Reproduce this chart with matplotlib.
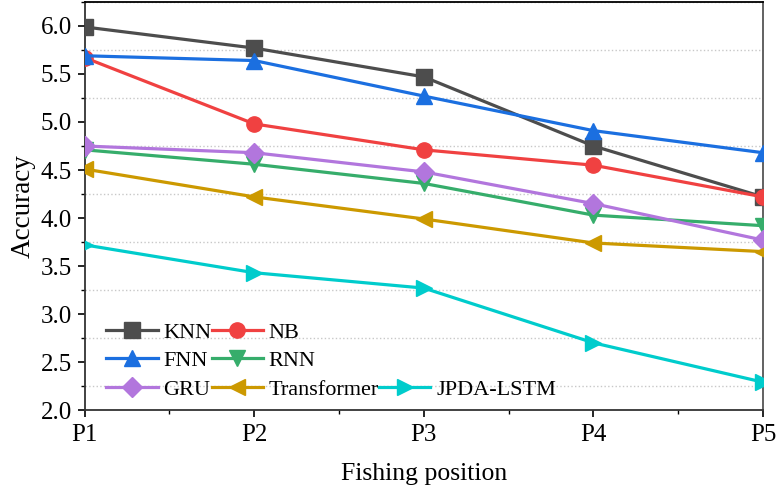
import numpy as np
import matplotlib
matplotlib.use("Agg")
import matplotlib.pyplot as plt
from matplotlib.lines import Line2D
from matplotlib.ticker import MultipleLocator

plt.rcParams['font.family'] = ['Liberation Serif', 'DejaVu Serif']
plt.rcParams['mathtext.fontset'] = 'stix'

positions = ['P1', 'P2', 'P3', 'P4', 'P5']
knn = [5.99, 5.77, 5.47, 4.75, 4.22]
nb = [5.67, 4.98, 4.71, 4.55, 4.22]
fnn = [5.69, 5.64, 5.27, 4.91, 4.68]
rnn = [4.71, 4.56, 4.36, 4.03, 3.92]
gru = [4.75, 4.68, 4.48, 4.15, 3.77]
transformer = [4.51, 4.22, 3.99, 3.74, 3.65]
jpda_lstm = [3.72, 3.43, 3.27, 2.70, 2.29]

series = [
    ('KNN', knn, '#4d4d4d', 's'),
    ('NB', nb, '#f04141', 'o'),
    ('FNN', fnn, '#1b6fe0', '^'),
    ('RNN', rnn, '#36ad6b', 'v'),
    ('GRU', gru, '#b276dd', 'D'),
    ('Transformer', transformer, '#cc9900', '<'),
    ('JPDA-LSTM', jpda_lstm, '#00cccc', '>'),
]

fig = plt.figure(figsize=(7.77, 4.97), dpi=100)
ax = fig.add_axes([0.109, 0.175, 0.873, 0.821])

x = np.arange(len(positions))
handles = {}
for name, vals, col, mk in series:
    ms = 11 if mk in ('s', 'o') else 12
    if mk == 'D':
        ms = 10
    h, = ax.plot(x, vals, color=col, marker=mk, lw=2.3, ms=ms, label=name, zorder=3)
    handles[name] = h

ax.set_xlim(0, 4)
ax.set_ylim(2.0, 6.25)
ax.set_xticks(x)
ax.set_xticklabels(positions)
ax.xaxis.set_minor_locator(MultipleLocator(0.5))
ax.yaxis.set_major_locator(MultipleLocator(0.5))
ax.yaxis.set_minor_locator(MultipleLocator(0.25))
ax.yaxis.set_major_formatter(matplotlib.ticker.FormatStrFormatter('%.1f'))
ax.tick_params(which='major', direction='out', length=5, width=1.2, labelsize=18, pad=4)
ax.tick_params(axis='x', which='major', pad=5)
ax.tick_params(which='minor', direction='out', length=3, width=1.0)
ax.grid(axis='y', which='minor', color='#c8c8c8', ls=':', lw=1.0)
for s in ax.spines.values():
    s.set_linewidth(1.3)
ax.spines['bottom'].set_color('#333333')
ax.spines['left'].set_color('#333333')
ax.spines['right'].set_color('#555555')

ax.set_xlabel('Fishing position', fontsize=18.5, labelpad=12)
ax.set_ylabel('Accuracy', fontsize=19.5, labelpad=4)

blank = Line2D([], [], color='none')
order = [handles['KNN'], handles['FNN'], handles['GRU'],
         handles['NB'], handles['RNN'], handles['Transformer'],
         blank, blank, handles['JPDA-LSTM']]
labels = ['KNN', 'FNN', 'GRU', 'NB', 'RNN', 'Transformer', '', '', 'JPDA-LSTM']
ax.legend(order, labels, ncol=3, frameon=False, fontsize=16, loc='lower left',
          bbox_to_anchor=(0.032, 0.025), handlelength=2.3, handletextpad=0.27,
          columnspacing=0.0, labelspacing=0.36, borderpad=0.0, borderaxespad=0.0)

fig.savefig('out.png', dpi=100)
